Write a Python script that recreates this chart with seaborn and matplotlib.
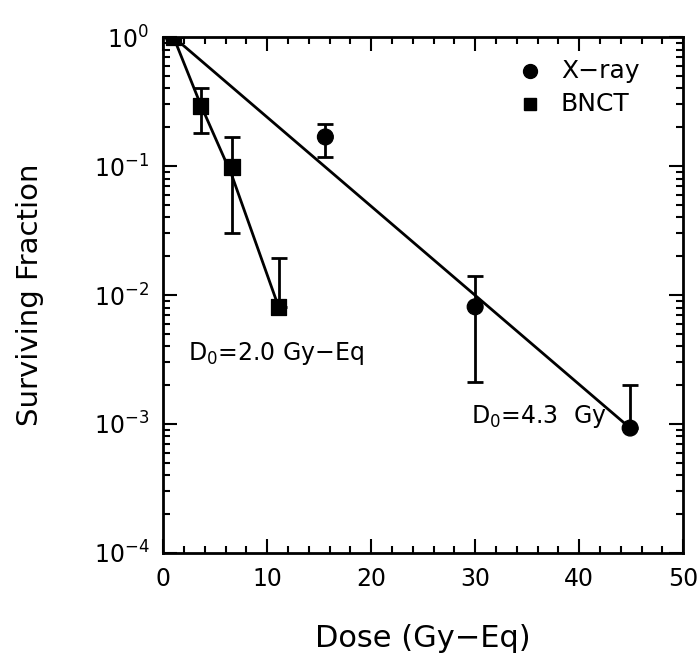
import numpy as np
import pandas as pd
import matplotlib
matplotlib.use('Agg')
import matplotlib.pyplot as plt
import matplotlib.ticker as mticker
import seaborn as sns

sns.set_theme(style="ticks")
plt.rcParams['font.family'] = ['DejaVu Sans']
plt.rcParams['text.color'] = 'black'
plt.rcParams['axes.labelcolor'] = 'black'

# data
xray_dose = [1.0, 15.6, 30.0, 44.9]
xray_sf = [1.0, 0.168, 0.0081, 0.00093]
xray_hi = [1.0, 0.21, 0.014, 0.002]
xray_lo = [1.0, 0.117, 0.0021, 0.00093]

bnct_dose = [1.0, 3.6, 6.6, 11.1]
bnct_sf = [1.0, 0.29, 0.098, 0.0081]
bnct_hi = [1.0, 0.40, 0.168, 0.0194]
bnct_lo = [1.0, 0.18, 0.030, 0.0081]

# fitted survival lines
xray_fit_dose = [1.0, 44.9]
xray_fit_sf = [1.0, 0.00093]
bnct_fit_dose = [1.0, 3.6, 6.6, 11.1]
bnct_fit_sf = [1.0, 0.30, 0.085, 0.0081]

pts = pd.DataFrame({
    'dose': xray_dose + bnct_dose,
    'sf': xray_sf + bnct_sf,
    'group': ['X-ray'] * len(xray_dose) + ['BNCT'] * len(bnct_dose),
})

fig = plt.figure(figsize=(7, 6.61), dpi=100)
ax = fig.add_axes([0.233, 0.1634, 0.743, 0.7806])

sns.lineplot(x=xray_fit_dose, y=xray_fit_sf, ax=ax, color='black', lw=2)
sns.lineplot(x=bnct_fit_dose, y=bnct_fit_sf, ax=ax, color='black', lw=2)

for d, s, lo, hi in [(xray_dose, xray_sf, xray_lo, xray_hi),
                     (bnct_dose, bnct_sf, bnct_lo, bnct_hi)]:
    s = np.array(s)
    yerr = [s - np.array(lo), np.array(hi) - s]
    ax.errorbar(d, s, yerr=yerr, fmt='none', ecolor='black',
                elinewidth=2, capsize=6, capthick=2)

sns.scatterplot(data=pts, x='dose', y='sf', style='group',
                markers={'X-ray': 'o', 'BNCT': 's'},
                s=130, color='black', edgecolor='black', ax=ax, zorder=5,
                legend=False)

ax.set_yscale('log')
ax.set_xlim(0, 50)
ax.set_ylim(1e-4, 1)
ax.xaxis.set_major_locator(mticker.MultipleLocator(10))
ax.xaxis.set_minor_locator(mticker.MultipleLocator(2))
ax.yaxis.set_major_locator(mticker.LogLocator(base=10, numticks=10))
ax.yaxis.set_minor_locator(mticker.LogLocator(base=10, subs=np.arange(2, 10), numticks=10))
ax.yaxis.set_minor_formatter(mticker.NullFormatter())

ax.tick_params(which='both', direction='in', top=True, right=True,
               colors='black', labelsize=17, width=1.5)
ax.tick_params(which='major', length=10, pad=10)
ax.tick_params(which='minor', length=5)
for sp in ax.spines.values():
    sp.set_color('black')
    sp.set_linewidth(2)

ax.set_xlabel('Dose (Gy\u2212Eq)', fontsize=22, labelpad=24)
ax.set_ylabel('Surviving Fraction', fontsize=21, labelpad=36)

# legend drawn by hand
ax.plot([0.705], [0.935], 'o', color='black', ms=10, transform=ax.transAxes)
ax.plot([0.705], [0.87], 's', color='black', ms=8, transform=ax.transAxes)
ax.text(0.765, 0.935, 'X\u2212ray', transform=ax.transAxes, fontsize=18, va='center')
ax.text(0.765, 0.87, 'BNCT', transform=ax.transAxes, fontsize=18, va='center')

ax.text(2.4, 0.0035, 'D$_0$=2.0 Gy\u2212Eq', fontsize=17, va='center')
ax.text(29.6, 0.00115, 'D$_0$=4.3  Gy', fontsize=17, va='center')

fig.savefig('out.png', dpi=100, facecolor='white')
